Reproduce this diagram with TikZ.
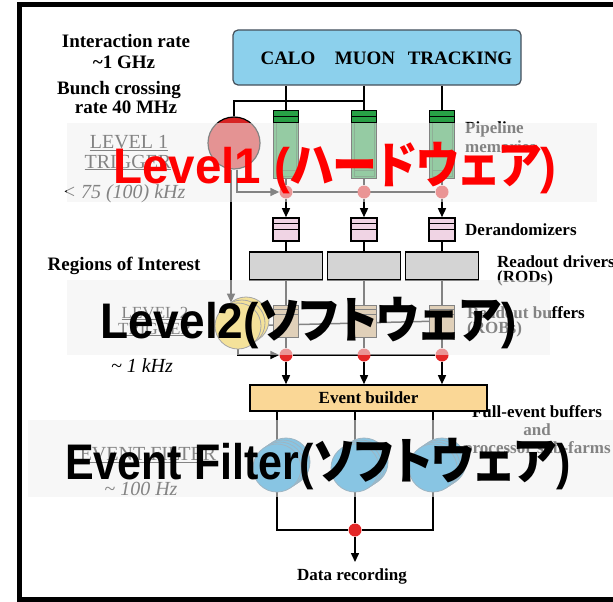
\documentclass[tikz,border=0pt]{standalone}
\usepackage{graphicx}
\usepackage{fontspec}
\setmainfont{Liberation Serif}
\newfontfamily\bigsans{Liberation Sans}
\newfontfamily\jpfont[RawFeature=+palt]{Noto Sans CJK JP}
\usetikzlibrary{positioning,arrows.meta,backgrounds}

\definecolor{detblue}{RGB}{140,208,236}
\definecolor{detedge}{RGB}{70,80,90}
\definecolor{pipegreen}{RGB}{40,160,70}
\definecolor{derpink}{RGB}{240,212,228}
\definecolor{rodgray}{RGB}{212,212,212}
\definecolor{robtan}{RGB}{205,170,120}
\definecolor{dotred}{RGB}{228,40,40}
\definecolor{lonered}{RGB}{215,35,35}
\definecolor{ltwoyellow}{RGB}{250,210,50}
\definecolor{farmblue}{RGB}{10,145,212}
\definecolor{farmedge}{RGB}{60,110,140}
\definecolor{ebfill}{RGB}{250,215,150}
\definecolor{bandgray}{RGB}{240,240,240}

\newcommand{\kana}[1]{\scalebox{0.9}[1]{\jpfont\bfseries #1}}
\newcommand{\narrow}[2]{\scalebox{#1}[1]{#2}}

\begin{document}
\begin{tikzpicture}[x=1pt, y=-1pt] % trigger and readout chain
\tikzstyle{rate} = [font=\bfseries\fontsize{19}{19}\selectfont, anchor=base, inner sep=0pt]
\tikzstyle{side} = [font=\bfseries\fontsize{17}{18}\selectfont, anchor=base west, inner sep=0pt]
\tikzstyle{trig} = [font=\fontsize{20}{20}\selectfont, anchor=base, inner sep=0pt]
\tikzstyle{freq} = [font=\itshape\fontsize{20}{20}\selectfont, anchor=base, inner sep=0pt]
\tikzstyle{pipe} = [draw, line width=1pt, fill=pipegreen, minimum width=25pt, minimum height=68pt, inner sep=0pt]
\tikzstyle{derand} = [draw, line width=1.6pt, fill=derpink, minimum width=26pt, minimum height=23pt, inner sep=0pt]
\tikzstyle{rod} = [draw, line width=1.8pt, fill=rodgray, minimum width=73pt, minimum height=28pt, inner sep=0pt]
\tikzstyle{rob} = [draw, line width=1pt, fill=robtan, minimum width=25pt, minimum height=32pt, inner sep=0pt]
\tikzstyle{joint} = [circle, fill=dotred, minimum size=13pt, inner sep=0pt]
\tikzstyle{farm} = [circle, draw=farmedge, line width=0.8pt, fill=farmblue, minimum size=48pt, inner sep=0pt]
\tikzstyle{ltwo} = [circle, draw=black!70, line width=0.8pt, fill=ltwoyellow, minimum size=46pt, inner sep=0pt]
\tikzstyle{wire} = [line width=1.5pt]
\tikzstyle{flow} = [line width=1.5pt, -{Triangle[length=9pt, width=8pt]}]
\tikzstyle{band} = [fill=bandgray, fill opacity=0.55]
\tikzstyle{big} = [font=\bigsans\bfseries\fontsize{50}{50}\selectfont, anchor=base west, inner sep=0pt]

\useasboundingbox (0,0) rectangle (613,602);
\draw[line width=5pt] (640,5) -- (19.5,5) -- (19.5,599.5) -- (640,599.5);

% detectors
\node[draw=detedge, line width=1.2pt, fill=detblue, rounded corners=5pt, minimum width=288pt, minimum height=55pt] (det) at (377,57.5) {};
\node[rate] (calo) at (288,65) {CALO};
\node[rate] (muon) at (365,65) {MUON};
\node[rate] (trk) at (460,65) {TRACKING};

% rates on the left
\node[rate] (irate) at (126,48) {Interaction rate};
\node[rate] (ighz) at (124,68) {\textasciitilde1 GHz};
\node[rate] (bunch) at (119,95) {Bunch crossing};
\node[rate] (bforty) at (126,113) {rate 40 MHz};
\node[trig] (lvone) at (129,148) {\underline{LEVEL 1}};
\node[trig] (trone) at (128,168) {\underline{TRIGGER}};
\node[freq] (fone) at (124,198) {< 75 (100) kHz};
\node[rate] (roi) at (124,270) {Regions of Interest};
\node[trig, font=\fontsize{17}{17}\selectfont] (lvtwo) at (155,318) {\underline{LEVEL 2}};
\node[trig, font=\fontsize{17}{17}\selectfont] (trtwo) at (155,334) {\underline{TRIGGER}};
\node[freq] (ftwo) at (142,372) {\textasciitilde\ 1 kHz};
\node[trig] (evf) at (148,460) {\underline{EVENT FILTER}};
\node[freq] (fthree) at (141,495) {\textasciitilde\ 100 Hz};

% labels on the right
\node[side] (pipetxt) at (465,133) {Pipeline};
\node[side] (memtxt) at (465,152) {memories};
\node[side] (dertxt) at (465,235) {Derandomizers};
\node[side] (rodtxt) at (497,267) {Readout drivers};
\node[side] (rodabbr) at (497,282) {(RODs)};
\node[side] (robtxt) at (467,318) {Readout buffers};
\node[side] (robabbr) at (467,333) {(ROBs)};
\node[side, anchor=base, align=center] (farmtxt) at (537,453) {Full-event buffers\\and\\processor sub-farms};

% level 1 and level 2 triggers
\node[circle, draw, line width=1.2pt, fill=lonered, minimum size=52pt, inner sep=0pt] (lone) at (234,143) {};
\foreach \s in {2,1}
    \node[ltwo] at (238+4*\s,326-3*\s) {};
\node[ltwo] (ltwo) at (238,326) {};

% readout columns
\foreach \n/\x in {1/286,2/364,3/442}
{
    \node[pipe] (pipe\n) at (\x,144) {};
    \draw[line width=0.8pt, pipegreen!60!black] ([shift={(3,13)}]pipe\n.north west) rectangle ([shift={(-3,-2)}]pipe\n.south east);
    \draw[line width=0.8pt, pipegreen!60!black] ([shift={(3,-8)}]pipe\n.south west) -- ([shift={(-3,-8)}]pipe\n.south east);
    \draw[line width=1.2pt] ([yshift=-7pt]pipe\n.north west) -- ([yshift=-7pt]pipe\n.north east);
    \draw[line width=1.2pt] ([yshift=-13pt]pipe\n.north west) -- ([yshift=-13pt]pipe\n.north east);
    \node[joint] (jtop\n) at (\x,192) {};
    \node[derand] (der\n) at (\x,229.5) {};
    \draw[line width=1pt] ([yshift=-6pt]der\n.north west) -- ([yshift=-6pt]der\n.north east);
    \draw[line width=1pt] ([yshift=-12pt]der\n.north west) -- ([yshift=-12pt]der\n.north east);
    \node[rod] (rod\n) at (\x,266) {};
    \node[rob] (rob\n) at (\x,321) {};
    \draw[line width=0.8pt] ([yshift=-5pt]rob\n.north west) -- ([yshift=-5pt]rob\n.north east);
    \draw[line width=0.8pt] ([yshift=-10pt]rob\n.north west) -- ([yshift=-10pt]rob\n.north east);
    \node[joint] (jmid\n) at (\x,355) {};
}

\node[draw, line width=1.6pt, fill=ebfill, minimum width=237pt, minimum height=26pt, inner sep=0pt, font=\bfseries\fontsize{17}{17}\selectfont] (eb) at (368.5,398) {Event builder};

% processor farms
\foreach \n/\x in {1/277,2/355,3/433}
{
    \foreach \s in {3,2,1}
        \node[farm] at (\x+3*\s,468-2*\s) {};
    \node[farm] (farm\n) at (\x,468) {};
}
\node[joint] (jbot) at (355,530) {};
\node[rate, font=\bfseries\fontsize{17}{17}\selectfont] (rec) at (352,580) {Data recording};

\begin{scope}[on background layer]
    \foreach \n in {1,2,3}
    {
        \draw[wire] (det.south -| pipe\n) -- (pipe\n);
        \draw[wire] (pipe\n) -- (jtop\n);
        \draw[flow] (jtop\n) -- (der\n);
        \draw[wire] (der\n) -- (rod\n);
        \draw[wire] (rod\n) -- (rob\n);
        \draw[wire] (rob\n) -- (jmid\n);
        \draw[flow] (jmid\n) -- (jmid\n |- eb.north);
        \draw[wire] (eb.south -| farm\n) -- (farm\n);
    }
    \draw[wire] (pipe2.north |- 0,101) -| (lone);
    \draw[flow] ([xshift=3pt]lone.south) |- (jtop1);
    \draw[flow] ([xshift=-3pt]lone.south) -- ([xshift=-3pt]lone.south |- ltwo.north);
    \draw[wire] (jtop1) -- (jtop3);
    \draw[wire] (ltwo) -- (rob3);
    \draw[flow] (ltwo.south) |- (jmid1);
    \draw[wire] (jmid1) -- (jmid3);
    \draw[wire] (farm1) |- (jbot);
    \draw[wire] (farm3) |- (jbot);
    \draw[wire] (farm2) -- (jbot);
    \draw[flow] (jbot) -- ([yshift=6pt]jbot |- rec.north);
\end{scope}

% faded bands and overlay titles
\fill[band] (67,123) rectangle (597,202);
\fill[band] (67,280) rectangle (550,355);
\fill[band] (28,420) rectangle (613,497);
\node[big, text=red] (tone) at (113,183) {\narrow{0.95}{Level1 (}\kana{ハードウェア}\narrow{0.95}{)}};
\node[big] (ttwo) at (100,338) {\narrow{0.92}{Level2(}\kana{ソフトウェア}\narrow{0.92}{)}};
\node[big] (tthree) at (65,479) {\narrow{0.86}{Event Filter(}\kana{ソフトウェア}\narrow{0.86}{)}};
\end{tikzpicture}
\end{document}
